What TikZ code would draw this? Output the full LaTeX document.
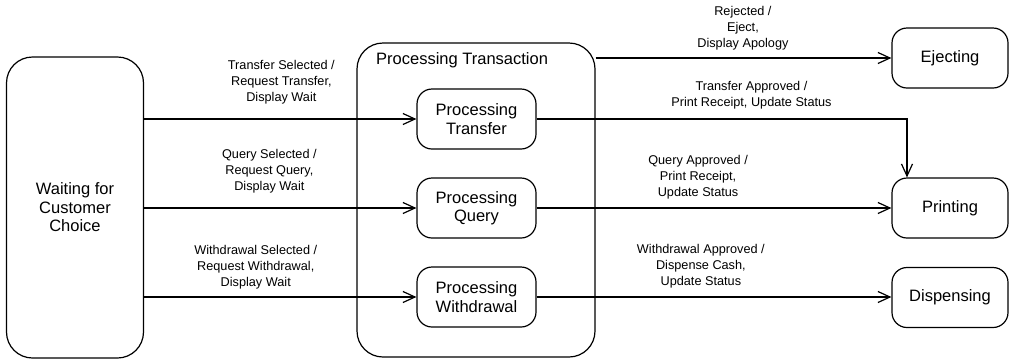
\documentclass[tikz,border=0pt]{standalone}
\usepackage{fontspec}
\setmainfont{Liberation Sans}
\usepackage{tikz}
\usetikzlibrary{arrows.meta, positioning}
\tikzstyle{state} = [rectangle, rounded corners=15pt, draw=black, line width=1.2pt,
                     text centered, align=center, minimum width=119pt, minimum height=60pt,
                     font=\fontsize{16.5}{18.5}\selectfont]
\tikzstyle{bigstate} = [state, rounded corners=26pt]
\tikzstyle{lbl} = [align=center, font=\fontsize{12.7}{16}\selectfont]
\tikzstyle{arrow} = [-{Straight Barb[length=12pt, width=11pt]}, line width=1.2pt]

\begin{document}
\begin{tikzpicture}[x=1pt, y=-1pt]
\useasboundingbox (0,0) rectangle (1010,360);
% states
\node[bigstate, minimum width=137pt, minimum height=301pt] (wait) at (75,207.5) {Waiting for\\Customer\\Choice};
\node[bigstate, minimum width=238pt, minimum height=314pt] (trans) at (476,200) {};
\node[anchor=west, font=\fontsize{16.5}{18.5}\selectfont, inner sep=0pt] (transtitle) at (376,60) {Processing Transaction};
\node[state] (ptransfer) at (476.5,119) {Processing\\Transfer};
\node[state] (pquery) at (476.5,208) {Processing\\Query};
\node[state] (pwithdraw) at (476.5,297) {Processing\\Withdrawal};
\node[state, minimum width=116pt] (eject) at (950,58) {Ejecting};
\node[state, minimum width=116pt] (print) at (950,208) {Printing};
\node[state, minimum width=116pt] (dispense) at (950,297.5) {Dispensing};

% transitions
\draw[arrow] (wait.east |- ptransfer) -- node[lbl, pos=0.504, above=10.6pt] {Transfer Selected /\\Request Transfer,\\Display Wait} (ptransfer.west);
\draw[arrow] (wait.east |- pquery) -- node[lbl, pos=0.46, above=10.6pt] {Query Selected /\\Request Query,\\Display Wait} (pquery.west);
\draw[arrow] (wait.east |- pwithdraw) -- node[lbl, pos=0.41, above=3.6pt] {Withdrawal Selected /\\Request Withdrawal,\\Display Wait} (pwithdraw.west);
\draw[arrow] (trans.east |- eject) -- node[lbl, pos=0.498, above=3.6pt] {Rejected /\\Eject,\\Display Apology} (eject.west);
\draw[arrow] (ptransfer.east) -| node[lbl, pos=0.29, above=5.6pt] {Transfer Approved /\\Print Receipt, Update Status} ([xshift=-43pt]print.north);
\draw[arrow] (pquery.east) -- node[lbl, pos=0.455, above=4.6pt] {Query Approved /\\Print Receipt,\\Update Status} (print.west);
\draw[arrow] (pwithdraw.east) -- node[lbl, pos=0.463, above=4.6pt] {Withdrawal Approved /\\Dispense Cash,\\Update Status} (dispense.west |- pwithdraw);
\end{tikzpicture}
\end{document}
